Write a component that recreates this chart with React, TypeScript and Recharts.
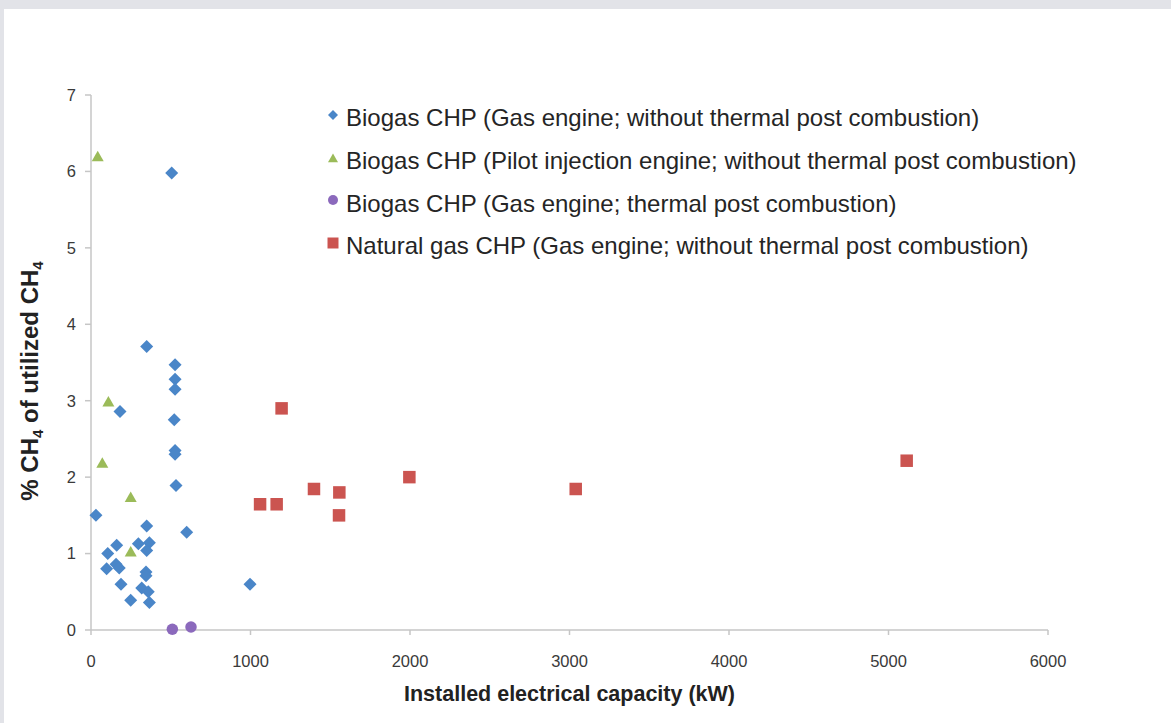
import React from "react";
import { ScatterChart, Scatter, XAxis, YAxis, Legend } from "recharts";

// Biogas CHP (Gas engine; without thermal post combustion)
const gasEngineX = [506, 349, 527, 527, 527, 182, 522, 527, 527, 533, 31, 349, 600, 161, 297, 366, 349, 105, 98, 157, 177, 345, 345, 188, 318, 359, 249, 366, 997];
const gasEngineY = [5.98, 3.71, 3.47, 3.28, 3.15, 2.86, 2.75, 2.35, 2.3, 1.89, 1.5, 1.36, 1.28, 1.11, 1.13, 1.14, 1.04, 1.0, 0.8, 0.86, 0.81, 0.76, 0.71, 0.6, 0.55, 0.5, 0.39, 0.36, 0.6];

// Biogas CHP (Pilot injection engine; without thermal post combustion)
const pilotX = [42, 109, 71, 249, 249];
const pilotY = [6.2, 2.99, 2.19, 1.74, 1.03];

// Biogas CHP (Gas engine; thermal post combustion)
const postCombX = [510, 627];
const postCombY = [0.01, 0.04];

// Natural gas CHP (Gas engine; without thermal post combustion)
const naturalGasX = [1060, 1164, 1195, 1398, 1557, 1555, 1996, 3039, 5114];
const naturalGasY = [1.645, 1.645, 2.9, 1.845, 1.8, 1.5, 2.0, 1.845, 2.215];

const xTicks = [0, 1000, 2000, 3000, 4000, 5000, 6000];
const yTicks = [0, 1, 2, 3, 4, 5, 6, 7];

const seriesNames = [
  "Biogas CHP (Gas engine; without thermal post combustion)",
  "Biogas CHP (Pilot injection engine; without thermal post combustion)",
  "Biogas CHP (Gas engine; thermal post combustion)",
  "Natural gas CHP (Gas engine; without thermal post combustion)",
];
const seriesColors = ["#4A86C8", "#9BBB59", "#8B69BC", "#CB5450"];
const seriesShapes = ["diamond", "triangle", "circle", "square"];

const xTitle = "Installed electrical capacity (kW)";

const toPoints = (xs: number[], ys: number[]) => xs.map((x, i) => ({ x, y: ys[i] }));

const FONT = "'Liberation Sans', Arial, Helvetica, sans-serif";

function markerPath(kind: string, cx: number, cy: number, s: number) {
  const h = s / 2;
  if (kind === "diamond") return `M${cx},${cy - h}L${cx + h},${cy}L${cx},${cy + h}L${cx - h},${cy}Z`;
  if (kind === "triangle") return `M${cx},${cy - h * 0.9}L${cx + h},${cy + h * 0.85}L${cx - h},${cy + h * 0.85}Z`;
  if (kind === "square") return `M${cx - h},${cy - h}h${s}v${s}h${-s}Z`;
  return "";
}

const makeShape = (kind: string, size: number, color: string) => (props: any) => {
  const { cx, cy } = props;
  if (cx == null || cy == null) return <g />;
  if (kind === "circle") return <circle cx={cx} cy={cy} r={size / 2} fill={color} />;
  return <path d={markerPath(kind, cx, cy, size)} fill={color} />;
};

const renderLegend = () => (
  <div style={{ fontFamily: FONT, fontSize: 24, color: "#252525" }}>
    {seriesNames.map((n, i) => (
      <div key={n} style={{ position: "relative", height: 42.7, lineHeight: "42.7px", whiteSpace: "nowrap", paddingLeft: 26 }}>
        <svg width={14} height={14} style={{ position: "absolute", left: 6, top: 10.7 }}>
          {seriesShapes[i] === "circle" ? (
            <circle cx={7} cy={7} r={5} fill={seriesColors[i]} />
          ) : (
            <path d={markerPath(seriesShapes[i], 7, 7, seriesShapes[i] === "square" ? 11 : 10)} fill={seriesColors[i]} />
          )}
        </svg>
        {n}
      </div>
    ))}
  </div>
);

const YLabel = () => (
  <text
    transform="translate(38, 381) rotate(-90)"
    textAnchor="middle"
    fontFamily={FONT}
    fontWeight="bold"
    fontSize={24}
    fill="#222"
  >
    % CH<tspan fontSize={15} dy={5}>4</tspan>
    <tspan dy={-5}> of utilized CH</tspan>
    <tspan fontSize={15} dy={5}>4</tspan>
  </text>
);

const XLabel = () => (
  <text x={569.5} y={701} textAnchor="middle" fontFamily={FONT} fontWeight="bold" fontSize={21.5} fill="#222">
    {xTitle}
  </text>
);

export default function App() {
  const tickStyle = { fill: "#3a3a3a", fontSize: 16.5, fontFamily: FONT };
  return (
    <div style={{ position: "absolute", left: 0, top: 0, width: 1171, height: 723, background: "#e2e3e8", overflow: "hidden" }}>
      <div style={{ position: "absolute", left: 4, top: 9, right: 0, bottom: 0, background: "#ffffff" }} />
      <div style={{ position: "absolute", left: 0, top: 0 }}>
        <ScatterChart width={1171} height={723} margin={{ top: 95, right: 123, bottom: 13, left: 0 }}>
          <XAxis
            type="number"
            dataKey="x"
            domain={[0, 6000]}
            ticks={xTicks}
            interval={0}
            height={80}
            stroke="#c6c6c6"
            axisLine={{ stroke: "#c6c6c6", strokeWidth: 1.5 }}
            tickLine={{ stroke: "#c6c6c6", strokeWidth: 1.5 }}
            tickSize={5}
            tickMargin={20}
            tick={tickStyle}
            label={<XLabel />}
          />
          <YAxis
            type="number"
            dataKey="y"
            domain={[0, 7]}
            ticks={yTicks}
            interval={0}
            width={91}
            stroke="#c6c6c6"
            axisLine={{ stroke: "#c6c6c6", strokeWidth: 1.5 }}
            tickLine={{ stroke: "#c6c6c6", strokeWidth: 1.5 }}
            tickSize={6}
            tickMargin={9}
            tick={tickStyle}
            label={<YLabel />}
          />
          <Legend
            layout="vertical"
            align="center"
            verticalAlign="middle"
            content={renderLegend}
            wrapperStyle={{ position: "absolute", left: 320, top: 97.3, width: 820, height: 172 }}
          />
          <Scatter name={seriesNames[0]} data={toPoints(gasEngineX, gasEngineY)} fill={seriesColors[0]} shape={makeShape("diamond", 13, seriesColors[0])} isAnimationActive={false} />
          <Scatter name={seriesNames[1]} data={toPoints(pilotX, pilotY)} fill={seriesColors[1]} shape={makeShape("triangle", 12, seriesColors[1])} isAnimationActive={false} />
          <Scatter name={seriesNames[2]} data={toPoints(postCombX, postCombY)} fill={seriesColors[2]} shape={makeShape("circle", 11.5, seriesColors[2])} isAnimationActive={false} />
          <Scatter name={seriesNames[3]} data={toPoints(naturalGasX, naturalGasY)} fill={seriesColors[3]} shape={makeShape("square", 12.5, seriesColors[3])} isAnimationActive={false} />
        </ScatterChart>
      </div>
    </div>
  );
}
